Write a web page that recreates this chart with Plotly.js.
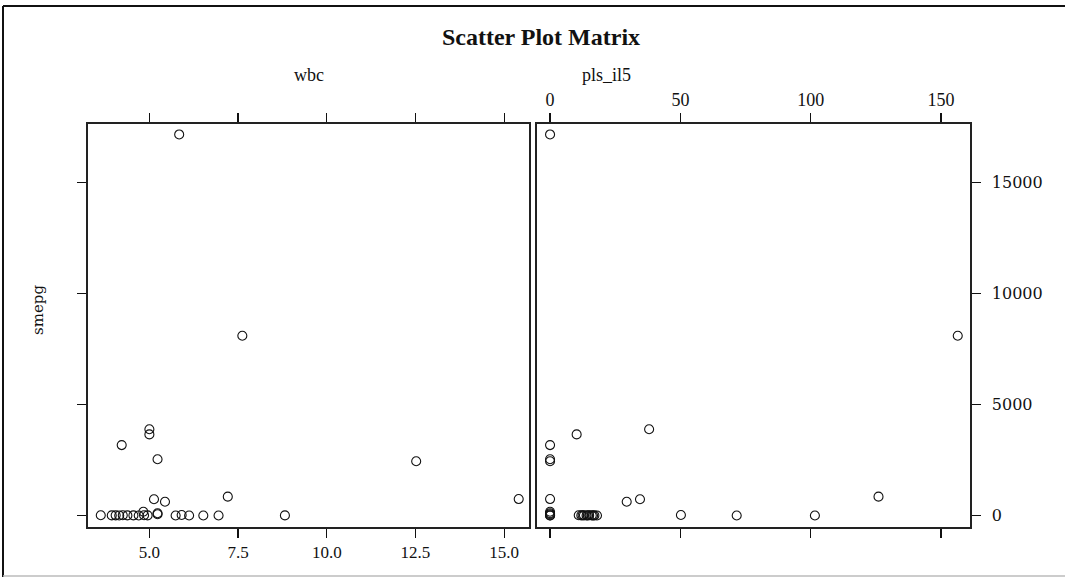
<!DOCTYPE html>
<html>
<head>
<meta charset="utf-8">
<script src="https://cdn.plot.ly/plotly-3.0.1.min.js"></script>
<style>html,body{margin:0;padding:0;background:#fff;}#chart{width:1065px;height:578px;}</style>
</head>
<body>
<div id="chart"></div>
<script>
// Observations (one per row): wbc, pls_il5, smepg
const wbc   = [5.84, 7.62, 5.00, 5.00, 4.22, 5.23, 12.52, 7.21, 15.41, 5.13, 5.44, 4.83, 5.23, 5.23,
               3.63, 3.94, 4.05, 4.15, 4.25, 4.38, 4.55, 4.70, 4.85, 4.95, 5.74, 5.91, 6.12, 6.52, 6.95, 8.82];
const plsIl5 = [0, 156.4, 38.0, 10.2, 0, 0, 0, 126.0, 0, 34.5, 29.4, 0, 0, 0,
               11.0, 12.0, 13.0, 14.0, 15.0, 16.0, 17.0, 18.0, 12.5, 14.5, 16.5, 50.2, 0, 71.6, 101.6, 0];
const smepg = [17150, 8090, 3880, 3650, 3170, 2530, 2440, 850, 740, 730, 620, 170, 100, 60,
               10, 5, 8, 3, 12, 4, 6, 2, 10, 5, 0, 25, 3, 0, 0, 5];

const wbcTicks = [5.0, 7.5, 10.0, 12.5, 15.0];
const wbcTickText = ["5.0", "7.5", "10.0", "12.5", "15.0"];
const plsTicks = [0, 50, 100, 150];
const plsTickText = ["0", "50", "100", "150"];
const smepgTicks = [0, 5000, 10000, 15000];
const smepgTickText = ["0", "5000", "10000", "15000"];

const serif = "'Liberation Serif', 'Times New Roman', serif";
const dvSerif = "'DejaVu Serif', serif";
const marker = {symbol: "circle-open", size: 9, color: "#111", line: {width: 1.1, color: "#111"}};

const traces = [
  {x: wbc, y: smepg, type: "scatter", mode: "markers", xaxis: "x", yaxis: "y", marker: marker, hoverinfo: "x+y"},
  {x: plsIl5, y: smepg, type: "scatter", mode: "markers", xaxis: "x2", yaxis: "y2", marker: marker, hoverinfo: "x+y"}
];

const axCommon = {
  showgrid: false, zeroline: false, showline: true, linecolor: "#222", linewidth: 1.6,
  ticks: "outside", ticklen: 9, tickwidth: 1.3, tickcolor: "#111"
};

const fx = p => (p - 88) / 882;   // page pixel -> paper x
const fy = p => (527 - p) / 403;  // page pixel -> paper y

const layout = {
  width: 1065, height: 578,
  margin: {l: 88, r: 95, t: 124, b: 51},
  paper_bgcolor: "#fff", plot_bgcolor: "#fff",
  showlegend: false,
  title: {text: "<b>Scatter Plot Matrix</b>", font: {family: serif, size: 24, color: "#111"},
          xref: "container", x: 541/1065, xanchor: "center", yref: "container", y: 1 - 37/578, yanchor: "middle"},
  xaxis: Object.assign({}, axCommon, {domain: [0, 0.5], range: [3.27, 15.70], side: "bottom", mirror: "ticks",
    tickmode: "array", tickvals: wbcTicks, ticktext: wbcTickText, showticklabels: true,
    tickfont: {family: serif, size: 17, color: "#111"}, anchor: "y"}),
  xaxis2: Object.assign({}, axCommon, {domain: [0.5091, 1], range: [-5, 161.1], side: "top", mirror: "ticks",
    tickmode: "array", tickvals: plsTicks, ticktext: plsTickText, showticklabels: true,
    tickfont: {family: serif, size: 18, color: "#111"}, anchor: "y2"}),
  yaxis: Object.assign({}, axCommon, {domain: [0, 1], range: [-517, 17620], side: "left", mirror: true,
    tickmode: "array", tickvals: smepgTicks, showticklabels: false, anchor: "x"}),
  yaxis2: Object.assign({}, axCommon, {domain: [0, 1], range: [-517, 17620], side: "right", mirror: true,
    tickmode: "array", tickvals: smepgTicks, ticktext: smepgTickText, showticklabels: true,
    ticklabelstandoff: 8,
    tickfont: {family: dvSerif, size: 16, color: "#111"}, anchor: "x2"}),
  annotations: [
    {text: "wbc", xref: "paper", yref: "paper", x: fx(309), y: fy(75), showarrow: false,
     xanchor: "center", yanchor: "middle", font: {family: serif, size: 18, color: "#111"}},
    {text: "pls_il5", xref: "paper", yref: "paper", x: fx(606), y: fy(75), showarrow: false,
     xanchor: "center", yanchor: "middle", font: {family: serif, size: 18, color: "#111"}},
    {text: "smepg", xref: "paper", yref: "paper", x: fx(38), y: fy(310), showarrow: false,
     textangle: -90, xanchor: "center", yanchor: "middle", font: {family: dvSerif, size: 15, color: "#111"}}
  ],
  shapes: [
    {type: "line", xref: "paper", yref: "paper", x0: fx(3), x1: fx(1066), y0: fy(6), y1: fy(6),
     line: {color: "#111", width: 2}},
    {type: "line", xref: "paper", yref: "paper", x0: fx(3), x1: fx(3), y0: fy(6), y1: fy(577),
     line: {color: "#111", width: 2}},
    {type: "line", xref: "paper", yref: "paper", x0: fx(3), x1: fx(1066), y0: fy(576), y1: fy(576),
     line: {color: "#bbb", width: 1.5}}
  ]
};

Plotly.newPlot("chart", traces, layout, {displayModeBar: false, staticPlot: true});
</script>
</body>
</html>
